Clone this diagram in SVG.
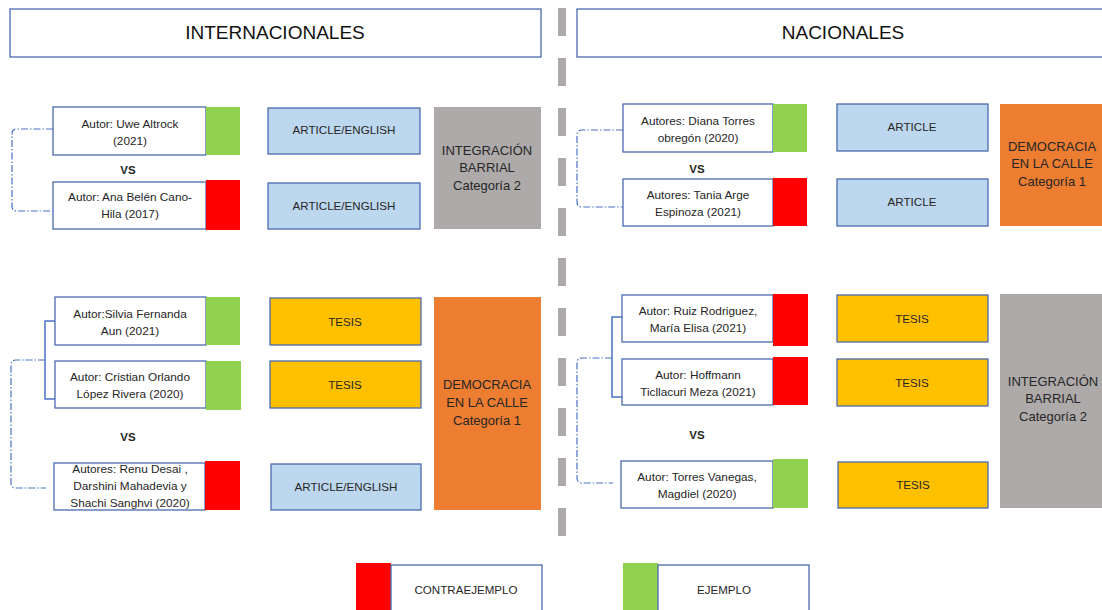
<svg xmlns="http://www.w3.org/2000/svg" width="1102" height="610" viewBox="0 0 1102 610">
<style>
text{font-family:"Liberation Sans",Arial,sans-serif;fill:#262626;text-anchor:middle}
.hdr{fill:#fff;stroke:#4a6ab0;stroke-width:1.3}
.h{font-size:19px;fill:#111}
.auth{fill:#fff;stroke:#4a6ab0;stroke-width:1.3}
.a{font-size:11.8px}
.vs{font-size:11.5px;font-weight:bold}
.g{fill:#92d050}
.r{fill:#ff0000}
.art{fill:#bdd7ee;stroke:#4a6ab0;stroke-width:1.3}
.tes{fill:#ffc000;stroke:#4a6ab0;stroke-width:1.3}
.b{font-size:11.6px}
.cat{font-size:13px}
.gray{fill:#aeaaaa}
.org{fill:#ed7d31}
.dash{fill:none;stroke:#4a72c4;stroke-width:1.2;stroke-dasharray:7 2 1.5 2}
.br{fill:none;stroke:#4a72c4;stroke-width:1.5}
</style>

<g id="divider"><line x1="562" y1="8" x2="562" y2="536" stroke="#aeaaaa" stroke-width="8" stroke-dasharray="28 22"/></g>

<g id="header-internacionales"><rect class="hdr" x="10" y="9" width="531" height="48"/><text class="h" x="275" y="39">INTERNACIONALES</text></g>
<g id="header-nacionales"><rect class="hdr" x="577" y="9" width="535" height="48"/><text class="h" x="843" y="39">NACIONALES</text></g>

<g id="connectors">
<path class="dash" d="M53,129 H17 Q12,129 12,134 V206 Q12,211 17,211 H53"/>
<path class="br" d="M55,321 H45 V399 H55"/>
<path class="dash" d="M45,360 H16 Q11,360 11,365 V483 Q11,488 16,488 H46"/>
<path class="dash" d="M623,130 H582 Q577,130 577,135 V202 Q577,207 582,207 H623"/>
<path class="br" d="M622,317 H612 V397 H622"/>
<path class="dash" d="M612,358 H582 Q577,358 577,363 V478 Q577,483 582,483 H613"/>
</g>

<g id="a1"><rect class="auth" x="53" y="107" width="153" height="48"/><rect class="g" x="206" y="107" width="34" height="48"/><text class="a" x="130" y="128">Autor: Uwe Altrock</text><text class="a" x="130" y="145">(2021)</text></g>
<g id="vs1"><text class="vs" x="128" y="174">VS</text></g>
<g id="a2"><rect class="auth" x="53" y="182" width="153" height="47"/><rect class="r" x="206" y="180" width="34" height="50"/><text class="a" x="130" y="201">Autor: Ana Belén Cano-</text><text class="a" x="130" y="218">Hila (2017)</text></g>
<g id="art1"><rect class="art" x="268" y="108" width="152" height="46"/><text class="b" x="344" y="134">ARTICLE/ENGLISH</text></g>
<g id="art2"><rect class="art" x="268" y="183" width="152" height="46"/><text class="b" x="344" y="210">ARTICLE/ENGLISH</text></g>
<g id="cat-l1"><rect class="gray" x="434" y="107" width="107" height="122"/><text class="cat" x="487" y="155">INTEGRACIÓN</text><text class="cat" x="487" y="172">BARRIAL</text><text class="cat" x="487" y="190">Categoría 2</text></g>

<g id="b1"><rect class="auth" x="55" y="297" width="151" height="48"/><rect class="g" x="206" y="297" width="34" height="48"/><text class="a" x="130" y="318">Autor:Silvia Fernanda</text><text class="a" x="130" y="335">Aun (2021)</text></g>
<g id="b2"><rect class="auth" x="55" y="361" width="151" height="47"/><rect class="g" x="206" y="361" width="35" height="49"/><text class="a" x="130" y="381">Autor: Cristian Orlando</text><text class="a" x="130" y="398">López Rivera (2020)</text></g>
<g id="vs2"><text class="vs" x="128" y="441">VS</text></g>
<g id="b3"><rect class="auth" x="54" y="463" width="151" height="47"/><rect class="r" x="205" y="461" width="35" height="49"/><text class="a" x="130" y="473">Autores: Renu Desai ,</text><text class="a" x="130" y="490">Darshini Mahadevia y</text><text class="a" x="130" y="507">Shachi Sanghvi (2020)</text></g>
<g id="tes1"><rect class="tes" x="270" y="298" width="151" height="47"/><text class="b" x="345" y="326">TESIS</text></g>
<g id="tes2"><rect class="tes" x="270" y="361" width="151" height="47"/><text class="b" x="345" y="389">TESIS</text></g>
<g id="art3"><rect class="art" x="271" y="464" width="150" height="46"/><text class="b" x="346" y="491">ARTICLE/ENGLISH</text></g>
<g id="cat-l2"><rect class="org" x="434" y="297" width="107" height="213"/><text class="cat" x="487" y="389">DEMOCRACIA</text><text class="cat" x="487" y="407">EN LA CALLE</text><text class="cat" x="487" y="425">Categoría 1</text></g>

<g id="c1"><rect class="auth" x="623" y="104" width="150" height="48"/><rect class="g" x="773" y="104" width="34" height="48"/><text class="a" x="698" y="125">Autores: Diana Torres</text><text class="a" x="698" y="142">obregón (2020)</text></g>
<g id="vs3"><text class="vs" x="697" y="173">VS</text></g>
<g id="c2"><rect class="auth" x="623" y="179" width="150" height="47"/><rect class="r" x="773" y="178" width="34" height="48"/><text class="a" x="698" y="199">Autores: Tania Arge</text><text class="a" x="698" y="216">Espinoza (2021)</text></g>
<g id="art4"><rect class="art" x="837" y="104" width="151" height="47"/><text class="b" x="912" y="131">ARTICLE</text></g>
<g id="art5"><rect class="art" x="837" y="179" width="151" height="47"/><text class="b" x="912" y="206">ARTICLE</text></g>
<g id="cat-r1"><rect class="org" x="1000" y="104" width="102" height="122"/><text class="cat" x="1052" y="151">DEMOCRACIA</text><text class="cat" x="1052" y="168">EN LA CALLE</text><text class="cat" x="1052" y="186">Categoría 1</text></g>

<g id="d1"><rect class="auth" x="622" y="295" width="151" height="47"/><rect class="r" x="773" y="294" width="35" height="52"/><text class="a" x="698" y="315">Autor: Ruiz Rodriguez,</text><text class="a" x="698" y="332">María Elisa (2021)</text></g>
<g id="d2"><rect class="auth" x="622" y="359" width="151" height="46"/><rect class="r" x="773" y="357" width="35" height="48"/><text class="a" x="698" y="379">Autor: Hoffmann</text><text class="a" x="698" y="396">Ticllacuri Meza (2021)</text></g>
<g id="vs4"><text class="vs" x="697" y="439">VS</text></g>
<g id="d3"><rect class="auth" x="621" y="461" width="152" height="47"/><rect class="g" x="773" y="459" width="35" height="49"/><text class="a" x="697" y="481">Autor: Torres Vanegas,</text><text class="a" x="697" y="498">Magdiel (2020)</text></g>
<g id="tes3"><rect class="tes" x="837" y="295" width="151" height="47"/><text class="b" x="912" y="323">TESIS</text></g>
<g id="tes4"><rect class="tes" x="837" y="359" width="151" height="47"/><text class="b" x="912" y="387">TESIS</text></g>
<g id="tes5"><rect class="tes" x="838" y="462" width="150" height="46"/><text class="b" x="913" y="489">TESIS</text></g>
<g id="cat-r2"><rect class="gray" x="1000" y="294" width="102" height="214"/><text class="cat" x="1053" y="386">INTEGRACIÓN</text><text class="cat" x="1053" y="403">BARRIAL</text><text class="cat" x="1053" y="421">Categoría 2</text></g>

<g id="legend-contraejemplo"><rect class="r" x="356" y="563" width="35" height="50"/><rect class="auth" x="391" y="565" width="151" height="50"/><text class="b" x="466" y="594">CONTRAEJEMPLO</text></g>
<g id="legend-ejemplo"><rect class="g" x="623" y="563" width="35" height="50"/><rect class="auth" x="658" y="565" width="151" height="50"/><text class="b" x="724" y="594">EJEMPLO</text></g>
</svg>
